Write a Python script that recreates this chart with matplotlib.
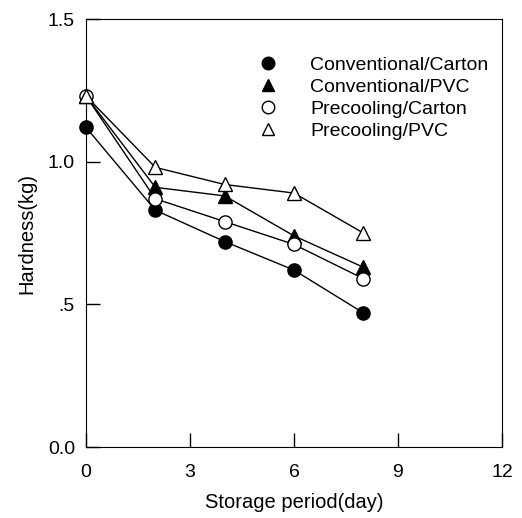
import matplotlib
matplotlib.use('Agg')
import matplotlib.pyplot as plt

plt.rcParams['font.family'] = ['Liberation Sans', 'DejaVu Sans']

# Datos
dias = [0, 2, 4, 6, 8]
conv_carton = [1.12, 0.83, 0.72, 0.62, 0.47]
conv_pvc = [1.23, 0.91, 0.88, 0.74, 0.63]
prec_carton = [1.23, 0.87, 0.79, 0.71, 0.59]
prec_pvc = [1.23, 0.98, 0.92, 0.89, 0.75]

etiquetas = ['Conventional/Carton', 'Conventional/PVC',
             'Precooling/Carton', 'Precooling/PVC']
y_ticks = [0.0, 0.5, 1.0, 1.5]
y_labels = ['0.0', '.5', '1.0', '1.5']
x_ticks = [0, 3, 6, 9, 12]

fig = plt.figure(figsize=(5.22, 5.18), dpi=100)
ax = fig.add_axes([86 / 522, 71 / 518, 416 / 522, 428 / 518])

estilos = [('o', 'black'), ('^', 'black'), ('o', 'white'), ('^', 'white')]
series = [conv_carton, conv_pvc, prec_carton, prec_pvc]
for vals, (m, fc), lab in zip(series, estilos, etiquetas):
    ax.plot(dias, vals, color='black', lw=1, marker=m, markersize=9.5,
            markerfacecolor=fc, markeredgecolor='black', markeredgewidth=1,
            label=lab, zorder=3, clip_on=False)

ax.set_xlim(0, 12)
ax.set_ylim(0, 1.5)
ax.set_xticks(x_ticks)
ax.set_yticks(y_ticks)
ax.set_yticklabels(y_labels)
ax.tick_params(direction='in', length=10, width=1, labelsize=14)
ax.tick_params(axis='x', pad=12)
ax.tick_params(axis='y', pad=8)
ax.set_xlabel('Storage period(day)', fontsize=14.5, labelpad=9)
ax.set_ylabel('Hardness(kg)', fontsize=14.5, labelpad=8)

leg = ax.legend(loc='upper left', bbox_to_anchor=(0.39, 0.935), frameon=False,
                fontsize=14, handlelength=1.0, handletextpad=1.7,
                labelspacing=0.22, markerscale=0.95, borderpad=0)
for h in leg.legend_handles:
    h.set_linestyle('none')

fig.savefig('out.png', dpi=100)
plt.close(fig)
